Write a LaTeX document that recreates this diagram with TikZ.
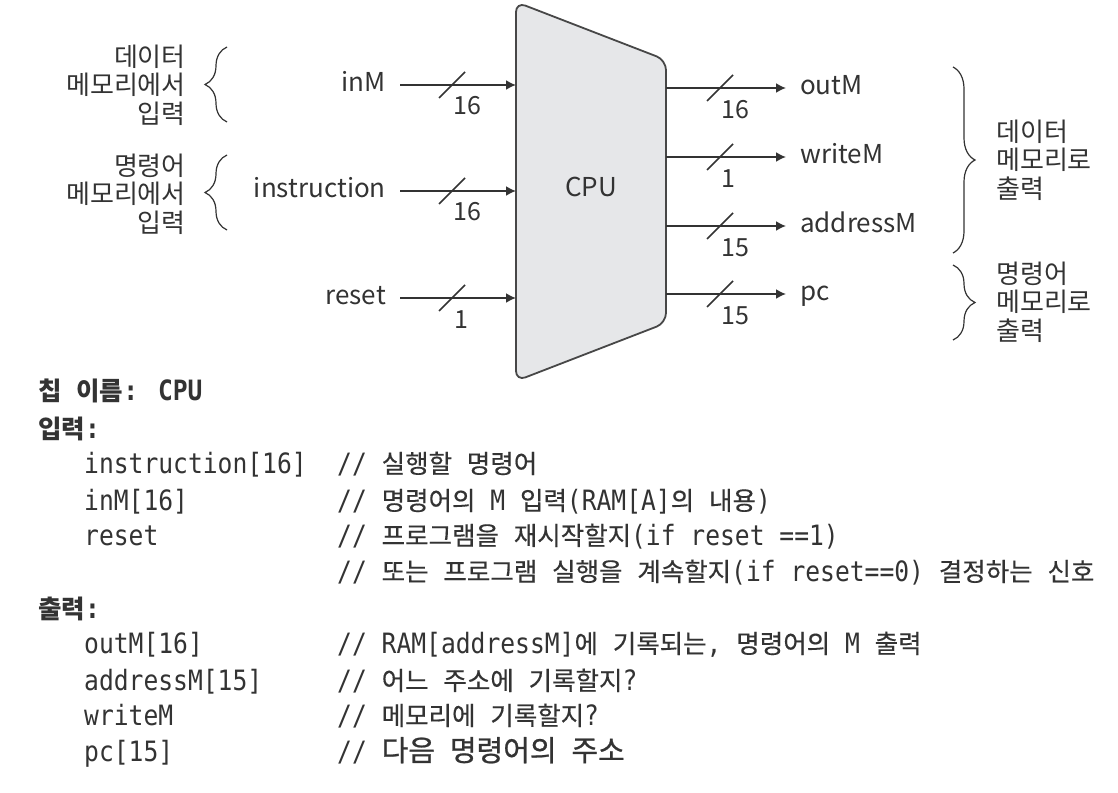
\documentclass[tikz,border=0pt]{standalone}
\usepackage{fontspec}
\usetikzlibrary{arrows.meta,decorations.pathreplacing}
\newfontfamily\kr{Noto Sans CJK KR}
\newfontfamily\krc{Noto Sans CJK KR}[FakeBold=0.4]
\newfontfamily\krfb{Noto Sans CJK KR}[FakeBold=0.8]
\newfontfamily\mono{DejaVu Sans Mono}[FakeStretch=0.88]
\definecolor{ink}{HTML}{333333}
\definecolor{cpufill}{HTML}{E6E7E9}
\newcommand\K[1]{{\krc\fontsize{25.5}{30}\selectfont #1}}
\newcommand\KB[1]{{\kr\bfseries\fontsize{25.5}{30}\selectfont #1}}
\newcommand\KL[1]{{\krfb\fontsize{29}{34}\selectfont #1}}
\begin{document}
\begin{tikzpicture}[x=1pt,y=-1pt,
  sig/.style={draw=ink, line width=1.8pt, -{Latex[length=10pt,width=10pt]}},
  bus/.style={draw=ink, line width=1.5pt},
  lbl/.style={font=\kr\fontsize{26}{31}\selectfont, text=ink, inner xsep=14pt, inner ysep=4pt, text height=19pt, text depth=6pt},
  num/.style={font=\kr\fontsize{25}{30}\selectfont, text=ink, inner sep=0pt},
  note/.style={font=\kr\fontsize{26}{28.5}\selectfont, text=ink, inner sep=0pt},
  brc/.style={draw=ink, line width=1.2pt, decorate, decoration={brace, amplitude=22pt}},
  code/.style={font=\mono\fontsize{28}{34}\selectfont, text=ink, anchor=base west, inner sep=0pt},
  codeb/.style={code, font=\mono\bfseries\fontsize{28}{34}\selectfont}
]
\useasboundingbox[fill=white] (0,0) rectangle (1118,792);

% CPU body
\draw[draw=ink!90, line width=1.8pt, fill=cpufill, rounded corners=10pt]
  (516,2) -- (666,60) -- (666,323) -- (516,381) -- cycle;
\node[lbl] (cpu) at (591,190) {CPU};

% inputs
\node[lbl,anchor=east] (inM) at (400,85) {inM};
\node[lbl,anchor=east] (instr) at (400,191) {instruction};
\node[lbl,anchor=east] (reset) at (400,298) {reset};
\coordinate (pinM) at (516,85);
\coordinate (pinstr) at (516,191);
\coordinate (preset) at (516,298);
\draw[sig] (inM) -- (pinM);
\draw[sig] (instr) -- (pinstr);
\draw[sig] (reset) -- (preset);
\foreach \yy in {85,191,298} \draw[bus] (439,\yy+13) -- (465,\yy-13);
\node[num] (w1) at (467,106) {16};
\node[num] (w2) at (467,212) {16};
\node[num] (w3) at (461,320) {1};

% outputs
\coordinate (poutM) at (666,88);
\coordinate (pwriteM) at (666,157);
\coordinate (paddrM) at (666,226);
\coordinate (ppc) at (666,294);
\node[lbl,anchor=west] (outM) at (786,88) {outM};
\node[lbl,anchor=west] (writeM) at (786,157) {writeM};
\node[lbl,anchor=west] (addrM) at (786,226) {addressM};
\node[lbl,anchor=west] (pc) at (786,294) {pc};
\draw[sig] (poutM) -- (outM);
\draw[sig] (pwriteM) -- (writeM);
\draw[sig] (paddrM) -- (addrM);
\draw[sig] (ppc) -- (pc);
\foreach \yy in {88,157,226,294} \draw[bus] (707,\yy+13) -- (733,\yy-13);
\node[num] (w4) at (735,110) {16};
\node[num] (w5) at (728,179) {1};
\node[num] (w6) at (735,248) {15};
\node[num] (w7) at (735,316) {15};

% braces
\coordinate (b1a) at (227,122); \coordinate (b1b) at (227,47);
\coordinate (b2a) at (227,230); \coordinate (b2b) at (227,155);
\coordinate (b3a) at (953,67);  \coordinate (b3b) at (953,253);
\coordinate (b4a) at (953,265); \coordinate (b4b) at (953,340);
\draw[brc] (b1a) -- (b1b);
\draw[brc] (b2a) -- (b2b);
\draw[brc] (b3a) -- (b3b);
\draw[brc] (b4a) -- (b4b);

\node[note, align=right, anchor=east] (d1) at (186,85) {데이터\\메모리에서\\입력};
\node[note, align=right, anchor=east] (d2) at (186,194) {명령어\\메모리에서\\입력};
\node[note, align=left, anchor=west] (d3) at (996,160) {데이터\\메모리로\\출력};
\node[note, align=left, anchor=west] (d4) at (996,302) {명령어\\메모리로\\출력};

% specification text
\node[codeb] (h1) at (38,400) {\KB{칩} \KB{이름}: CPU};
\node[codeb] (h2) at (38,438) {\KB{입력}:};
\node[code] (c1) at (84,473) {instruction[16]};
\node[code] (m1) at (337,473) {// \K{실행할} \K{명령어}};
\node[code] (c2) at (84,510) {inM[16]};
\node[code] (m2) at (337,510) {// \K{명령어의} M \K{입력}(RAM[A]\K{의} \K{내용})};
\node[code] (c3) at (84,545) {reset};
\node[code] (m3) at (337,545) {// \K{프로그램을} \K{재시작할지}(if reset ==1)};
\node[code] (m4) at (337,581) {// \K{또는} \K{프로그램} \K{실행을} \K{계속할지}(if reset==0) \K{결정하는} \K{신호}};
\node[codeb] (h3) at (38,618) {\KB{출력}:};
\node[code] (c5) at (84,653) {outM[16]};
\node[code] (m5) at (337,653) {// RAM[addressM]\K{에} \K{기록되는}, \K{명령어의} M \K{출력}};
\node[code] (c6) at (84,690) {addressM[15]};
\node[code] (m6) at (337,690) {// \K{어느} \K{주소에} \K{기록할지}?};
\node[code] (c7) at (84,725) {writeM};
\node[code] (m7) at (337,725) {// \K{메모리에} \K{기록할지}?};
\node[code] (c8) at (84,761) {pc[15]};
\node[code] (m8) at (337,761) {// \KL{다음} \KL{명령어의} \KL{주소}};
\end{tikzpicture}
\end{document}
